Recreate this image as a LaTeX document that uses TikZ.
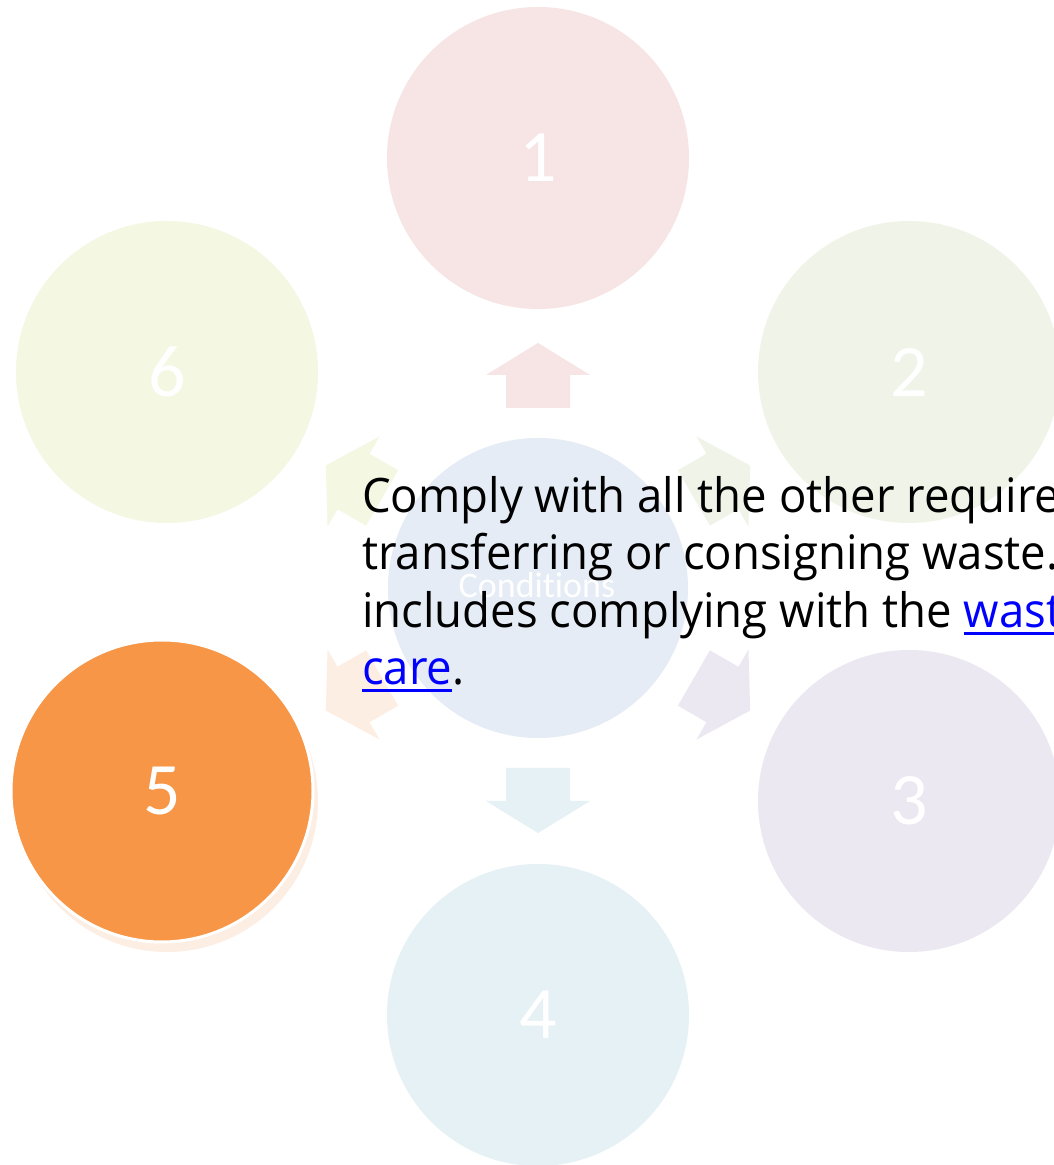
\documentclass[tikz,border=0pt]{standalone}
\usepackage{fontspec}
\newfontfamily\segoe[FakeStretch=0.958]{Open Sans}
\newfontfamily\calib[Ligatures={NoCommon}]{Carlito}
\definecolor{cA}{RGB}{246,229,228}
\definecolor{cB}{RGB}{240,244,232}
\definecolor{cC}{RGB}{236,232,241}
\definecolor{cD}{RGB}{229,241,245}
\definecolor{cE}{RGB}{247,150,70}
\definecolor{cEpale}{RGB}{253,238,227}
\definecolor{cF}{RGB}{244,247,225}
\definecolor{cMid}{RGB}{229,236,245}
\definecolor{linkblue}{RGB}{0,0,255}
\newcommand\lnk[1]{{\color{linkblue}\setbox0\hbox{#1}\rlap{\rule[-7pt]{\wd0}{2.5pt}}\box0}}
\tikzset{
  bubble/.style={circle, minimum size=302pt, inner sep=0pt, text=white,
    font=\calib\fontsize{74}{80}\selectfont},
  bodytext/.style={anchor=base west, inner sep=0pt, text=black,
    font=\segoe\fontsize{47.5}{57}\selectfont}
}
\begin{document}
\begin{tikzpicture}[x=1pt,y=1pt]
\useasboundingbox (0,0) rectangle (1054,1165);
\clip (0,0) rectangle (1054,1165);
\fill[white] (0,0) rectangle (1054,1165);
% centre
\node[bubble, fill=cMid, minimum size=300pt] (mid) at (538,577) {};
\node[text=white, inner sep=0pt, anchor=base, font=\calib\fontsize{36}{40}\selectfont] (midlabel) at (537,567) {Conditions};
% outer bubbles
\node[bubble, fill=cA] (n1) at (538,1007) {1};
\node[bubble, fill=cB] (n2) at (909,793) {2};
\node[bubble, fill=cC] (n3) at (909,364) {3};
\node[bubble, fill=cD] (n4) at (538,150) {4};
\node[bubble, fill=cEpale] (n5shadow) at (167,364) {};
\node[bubble, fill=cE, draw=white, line width=3pt] (n5) at (162,374) {5};
\node[bubble, fill=cF] (n6) at (167,793) {6};
% block arrows from the centre
\foreach \ang/\col in {90/cA, 30/cB, -30/cC, -90/cD, -150/cEpale, 150/cF}{
  \begin{scope}[shift={(mid.center)}, rotate=\ang]
    \fill[\col] (180,-32) -- (213,-32) -- (213,-52) -- (245,0) -- (213,52) -- (213,32) -- (180,32) -- cycle;
  \end{scope}
}
% overlaid text
\node[bodytext] (l1) at (362,652) {Comply with all the other requirements when};
\node[bodytext] (l2) at (362,595) {transferring or consigning waste. This};
\node[bodytext] (l3) at (362,537) {includes complying with the \lnk{waste duty of}};
\node[bodytext] (l4) at (362,480) {\lnk{care}.};
\end{tikzpicture}
\end{document}
